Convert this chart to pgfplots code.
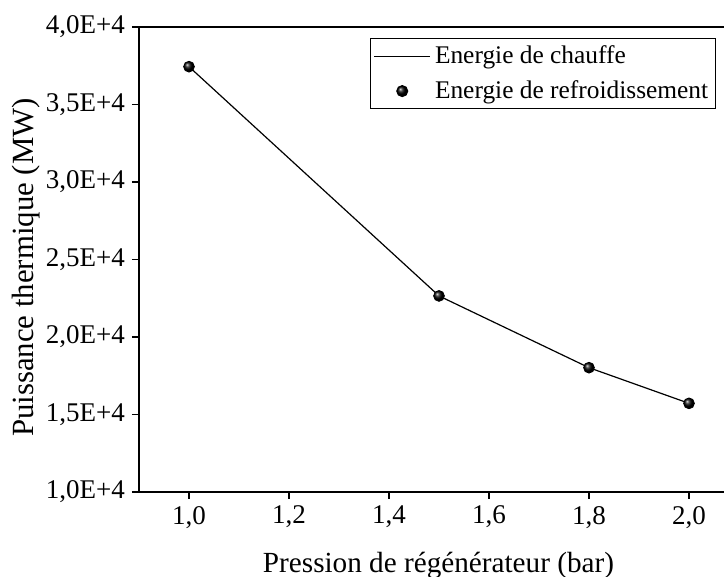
\documentclass[border=0pt]{standalone}
\usepackage{pgfplots}
\pgfplotsset{compat=1.18}
\usepackage{fontspec}
\setmainfont{Liberation Serif}
\usetikzlibrary{calc}

\pgfplotsset{
    linelegend/.style={legend image code/.code={\draw[##1] (0cm,0cm) -- (0.99cm,0cm);}},
    marklegend/.style={legend image code/.code={\draw[##1] plot coordinates {(0.495cm,0cm)};}},
}

\begin{document}
\begin{tikzpicture}[font=\fontsize{13.5}{16}\selectfont]
\begin{axis}[
    scale only axis,
    width=292.5pt, height=232.5pt,
    xmin=0.9, xmax=2.07,
    ymin=10000, ymax=40000,
    scaled y ticks=false,
    separate axis lines,
    axis x line=box,
    axis y line=left,
    axis line style={line width=1pt, -},
    xtick pos=bottom, ytick pos=left,
    tick align=outside,
    major tick length=3.5pt,
    tick style={line width=0.8pt, black},
    xtick={1.0,1.2,1.4,1.6,1.8,2.0},
    xticklabels={{1,0},{1,2},{1,4},{1,6},{1,8},{2,0}},
    ytick={10000,15000,20000,25000,30000,35000,40000},
    yticklabels={{1,0E+4},{1,5E+4},{2,0E+4},{2,5E+4},{3,0E+4},{3,5E+4},{4,0E+4}},
    /pgf/number format/assume math mode=true,
    xlabel={Pression de régénérateur (bar)},
    ylabel={Puissance thermique (MW)},
    xlabel style={font=\fontsize{14.6}{17}\selectfont, yshift=-5pt, xshift=3.5pt},
    ylabel style={font=\fontsize{15.4}{18}\selectfont, yshift=-4pt, xshift=-4pt},
    legend cell align=left,
    legend style={at={(0.986,0.976)}, anchor=north east, draw=black, line width=0.6pt,
        inner sep=1.5pt, row sep=3pt, font=\fontsize{12.7}{15}\selectfont},
    clip=false,
]
\addplot[black, line width=0.6pt, mark=none, linelegend]
    coordinates {(1.0,37440) (1.5,22650) (1.8,18020) (2.0,15720)};
\addlegendentry{Energie de chauffe}
\addplot[only marks, mark=ball, mark size=2.7pt, ball color=black, marklegend]
    coordinates {(1.0,37440) (1.5,22650) (1.8,18020) (2.0,15720)};
\addlegendentry{Energie de refroidissement}
\end{axis}
\pgfresetboundingbox
\path ($(current axis.south west)+(-69.5pt,-42.5pt)$) rectangle ($(current axis.north east)+(0,13.5pt)$);
\end{tikzpicture}
\end{document}
